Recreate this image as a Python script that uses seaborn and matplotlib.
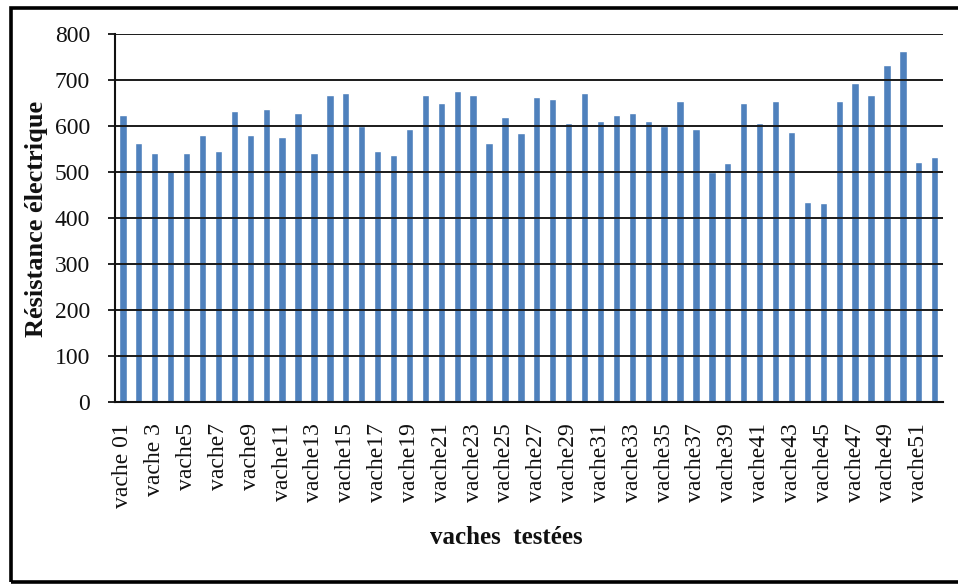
import matplotlib
matplotlib.use("Agg")
import matplotlib.pyplot as plt
from matplotlib.patches import Rectangle
import seaborn as sns
import pandas as pd

# Electrical resistance measured on each tested cow
vaches = ["vache 01", "vache 2", "vache 3", "vache4", "vache5", "vache6", "vache7",
          "vache8", "vache9", "vache10", "vache11", "vache12", "vache13", "vache14",
          "vache15", "vache16", "vache17", "vache18", "vache19", "vache20", "vache21",
          "vache22", "vache23", "vache24", "vache25", "vache26", "vache27", "vache28",
          "vache29", "vache30", "vache31", "vache32", "vache33", "vache34", "vache35",
          "vache36", "vache37", "vache38", "vache39", "vache40", "vache41", "vache42",
          "vache43", "vache44", "vache45", "vache46", "vache47", "vache48", "vache49",
          "vache50", "vache51", "vache52"]
resistance = [623, 562, 541, 502, 541, 580, 545, 633, 580, 636, 575, 628, 541,
              667, 672, 599, 545, 536, 593, 667, 650, 675, 667, 562, 619, 584,
              662, 658, 606, 672, 610, 623, 628, 610, 599, 654, 593, 499, 519,
              649, 606, 654, 588, 435, 432, 654, 693, 667, 732, 762, 522, 532]
y_ticks = [0, 100, 200, 300, 400, 500, 600, 700, 800]

df = pd.DataFrame({"vache": vaches, "resistance": resistance})

sns.set_theme(style="white")
plt.rcParams["font.family"] = ["Liberation Serif", "DejaVu Serif"]

fig = plt.figure(figsize=(9.58, 5.84), dpi=100)
ax = fig.add_axes([0.120, 0.3116, 0.864, 0.6302])

sns.barplot(data=df, x="vache", y="resistance", color="#4F81BD", saturation=1,
            width=0.46, ax=ax)

ax.set_xlim(-0.5, len(vaches) - 0.5)
ax.set_ylim(0, 800)
ax.set_yticks(y_ticks)
ax.set_yticklabels([str(v) for v in y_ticks], fontsize=17)

shown = list(range(0, len(vaches), 2))
ax.set_xticks(shown)
ax.set_xticklabels([vaches[i] for i in shown], rotation=90, fontsize=17)

# horizontal grid drawn over the bars
ax.grid(axis="y", color="#1a1a1a", linewidth=1.4)
ax.set_axisbelow(False)
for b in ax.patches:
    b.set_zorder(1)

for side in ("top", "right"):
    ax.spines[side].set_visible(False)
for side in ("left", "bottom"):
    ax.spines[side].set_color("#111111")
    ax.spines[side].set_linewidth(1.5)
    ax.spines[side].set_zorder(3)

ax.tick_params(axis="y", direction="out", length=5, width=1.3, color="#111111",
               pad=13, left=True, labelcolor="#111111")
ax.tick_params(axis="x", length=0, pad=15, labelcolor="#111111")

ax.set_xlabel("")
ax.set_ylabel("")
fig.text(0.528, 1 - 537 / 584, "vaches  testées", ha="center", va="center",
         fontsize=18, fontweight="bold", color="#111111")
fig.text(37 / 958, 1 - 219 / 584, "Résistance électrique", ha="center", va="center",
         rotation=90, fontsize=19, fontweight="bold", color="#111111")

# Outer frame around the chart
fig.patches.append(Rectangle((10.5 / 958, 2.5 / 584), 1.0, 573.5 / 584,
                             transform=fig.transFigure, fill=False,
                             edgecolor="black", linewidth=2.6))

fig.savefig("out.png", dpi=100)
